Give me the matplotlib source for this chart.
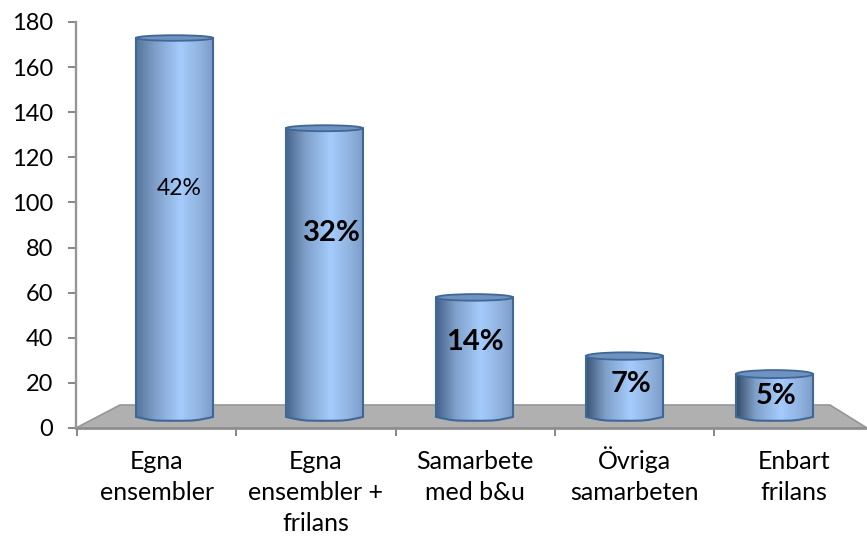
import numpy as np
import matplotlib
matplotlib.use("Agg")
import matplotlib.pyplot as plt
from matplotlib.colors import LinearSegmentedColormap
from matplotlib.patches import Ellipse, Polygon, PathPatch
from matplotlib.path import Path

categories = ["Egna\nensembler", "Egna\nensembler +\nfrilans", "Samarbete\nmed b&u", "Övriga\nsamarbeten", "Enbart\nfrilans"]
values = [168, 128, 53, 27, 19]
percent_labels = ["42%", "32%", "14%", "7%", "5%"]
percent_y = [106, 86.5, 38, 19.5, 14]
yticks = list(range(0, 181, 20))

W, H = 867, 536
plt.rcParams["font.family"] = ["Lato", "DejaVu Sans"]

fig = plt.figure(figsize=(W / 100, H / 100), dpi=100)
ax = fig.add_axes([76 / W, 1 - 428 / H, (W - 76) / W, 406 / H])

# one bar step is 150 px, y unit is 406/180 px
px_x = 1 / 150
px_y = 180 / 406
ax.set_xlim((76 - 174.5) * px_x, (W - 174.5) * px_x)
ax.set_ylim(0, 180)

for s in ["top", "right", "bottom"]:
    ax.spines[s].set_visible(False)
ax.spines["left"].set_color("#969696")
ax.spines["left"].set_linewidth(1.7)
ax.set_yticks(yticks)
ax.tick_params(axis="y", length=6, width=1.4, color="#868686", labelsize=17, pad=10.5, labelcolor="black")

# floor
floor_h = 23 * px_y
x0, x1 = ax.get_xlim()
floor = Polygon([(x0, 0), (x1, 0), (x1 - 37 * px_x, floor_h), (x0 + 44 * px_x, floor_h)],
                closed=True, facecolor="#b0b0b0", edgecolor="#969696", linewidth=1.2, zorder=1)
ax.add_patch(floor)
ax.plot([x0, x1], [0, 0], color="#8f8f8f", lw=2, zorder=2, clip_on=False)

# x ticks and labels
tick_px = [77, 236, 396, 555, 714]
ax.set_xticks([(p - 174.5) * px_x for p in tick_px])
ax.set_xticklabels([])
ax.tick_params(axis="x", length=6, width=1.4, color="#868686")
label_px = [157, 316, 475, 634, 794]
# each line on its own baseline, else tall glyphs like Ö shift the block
for lp, c in zip(label_px, categories):
    for j, line in enumerate(c.split("\n")):
        ax.text((lp - 174.5) * px_x, -(41 + 31 * j) * px_y, line, ha="center", va="baseline",
                fontsize=18, color="black", clip_on=False)

# cylinders
half_w = 38.5 * px_x
base_h = 3.8 * px_y
cap_h = [2.8 * px_y, 3 * px_y, 3.3 * px_y, 3.7 * px_y, 4 * px_y]
base = 4.9
left_dark = ["#56759c", "#48668c", "#44618a", "#3a5374", "#334a68"]
edge = "#3f6797"
for i, v in enumerate(values):
    cmap = LinearSegmentedColormap.from_list(
        "cyl", [(0, left_dark[i]), (0.25, "#7f9fc8"), (0.58, "#a5ccfd"), (0.85, "#8fb0dc"), (1, "#7c9dca")])
    k = 0.5522847
    l, r, b, t = i - half_w, i + half_w, base, base + v
    verts = [(l, t), (l, b),
             (l + half_w * (1 - k), b - base_h), (i - half_w * k, b - base_h), (i, b - base_h),
             (i + half_w * k, b - base_h), (r - half_w * (1 - k), b - base_h), (r, b),
             (r, t), (l, t)]
    codes = [Path.MOVETO, Path.LINETO, Path.CURVE4, Path.CURVE4, Path.CURVE4,
             Path.CURVE4, Path.CURVE4, Path.CURVE4, Path.LINETO, Path.CLOSEPOLY]
    body = PathPatch(Path(verts, codes), facecolor="none", edgecolor=edge, linewidth=1.5, zorder=4)
    ax.add_patch(body)
    im = ax.imshow(np.linspace(0, 1, 256).reshape(1, -1), cmap=cmap, extent=(l, r, b - base_h, t),
                   aspect="auto", zorder=3)
    im.set_clip_path(body)
    cap = Ellipse((i, t), 2 * half_w, 2 * cap_h[i], facecolor="#6f92bf", edgecolor=edge, linewidth=1.3, zorder=5)
    ax.add_patch(cap)

ax.set_xlim((76 - 174.5) * px_x, (W - 174.5) * px_x)
ax.set_ylim(0, 180)

# percent labels
label_dx = [0.03, 0.047, 0, 0.043, 0.013]
for i, (p, y) in enumerate(zip(percent_labels, percent_y)):
    if i == 0:
        ax.text(i + label_dx[i], y, p, ha="center", va="center", fontsize=16.5, color="black", zorder=6)
    else:
        ax.text(i + label_dx[i], y, p, ha="center", va="center", fontsize=21, fontweight="bold", color="black", zorder=6)

fig.savefig("out.png", dpi=100)
plt.close(fig)
